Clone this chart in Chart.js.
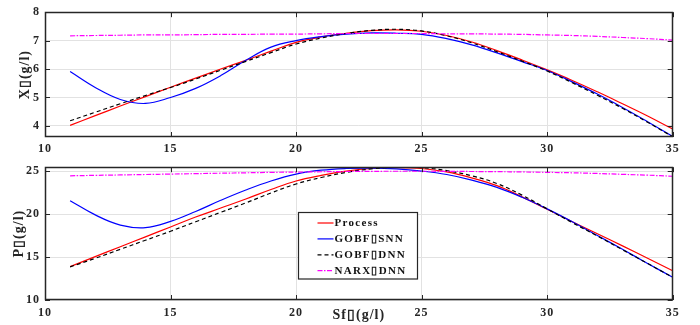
<!DOCTYPE html>
<html>
<head>
<meta charset="utf-8">
<script src="https://cdn.jsdelivr.net/npm/chart.js@4.4.1/dist/chart.umd.min.js"></script>
<style>
  html, body { margin: 0; padding: 0; background: #fff; }
  #wrap { position: relative; width: 700px; height: 325px; }
  .panel { position: absolute; left: 0; width: 700px; }
</style>
</head>
<body>
<div id="wrap">
  <div class="panel" style="top:0;height:160px"><canvas id="xChart" width="700" height="160"></canvas></div>
  <div class="panel" style="top:155px;height:170px"><canvas id="pChart" width="700" height="170"></canvas></div>
</div>
<script>
// feed substrate concentration Sf (g/l)
const sf = [11, 12, 13, 14, 15, 16, 17, 18, 19, 20, 21, 22, 23,
            24, 25, 26, 27, 28, 29, 30, 31, 32, 33, 34, 35];

// biomass X (g/l)
const xProcess = [4.02, 4.36, 4.70, 5.03, 5.36, 5.68, 6.00, 6.31, 6.63, 6.94, 7.13, 7.26, 7.35,
                  7.38, 7.33, 7.18, 6.95, 6.65, 6.32, 5.97, 5.60, 5.20, 4.78, 4.35, 3.89];
const xGobfSnn = [5.91, 5.35, 4.93, 4.79, 5.00, 5.32, 5.77, 6.31, 6.77, 7.00, 7.14, 7.23, 7.27,
                  7.26, 7.22, 7.07, 6.85, 6.57, 6.26, 5.95, 5.55, 5.12, 4.65, 4.15, 3.63];
const xGobfDnn = [4.18, 4.48, 4.78, 5.07, 5.35, 5.65, 5.96, 6.27, 6.58, 6.88, 7.09, 7.25, 7.36,
                  7.40, 7.34, 7.17, 6.92, 6.61, 6.28, 5.93, 5.52, 5.08, 4.62, 4.13, 3.62];
const xNarxDnn = [7.17, 7.18, 7.19, 7.20, 7.20, 7.21, 7.22, 7.22, 7.23, 7.23, 7.24, 7.25, 7.25,
                  7.25, 7.25, 7.24, 7.24, 7.23, 7.22, 7.20, 7.18, 7.15, 7.11, 7.07, 7.02];

// product P (g/l)
const pProcess = [13.88, 15.05, 16.20, 17.35, 18.50, 19.65, 20.70, 21.75, 22.85, 23.85, 24.50, 25.00, 25.30,
                  25.40, 25.30, 24.90, 24.20, 23.30, 22.00, 20.55, 19.10, 17.70, 16.30, 14.85, 13.40];
const pGobfSnn = [21.55, 19.90, 18.72, 18.42, 19.15, 20.30, 21.60, 22.80, 23.85, 24.65, 25.10, 25.30, 25.35,
                  25.25, 25.00, 24.60, 23.95, 23.10, 21.95, 20.60, 19.10, 17.50, 15.90, 14.25, 12.65];
const pGobfDnn = [13.85, 14.85, 15.90, 16.95, 18.00, 19.10, 20.20, 21.30, 22.45, 23.50, 24.25, 24.85, 25.25,
                  25.45, 25.40, 25.05, 24.45, 23.55, 22.20, 20.60, 19.00, 17.45, 15.85, 14.25, 12.64];
const pNarxDnn = [24.45, 24.50, 24.55, 24.60, 24.65, 24.70, 24.75, 24.80, 24.85, 24.88, 24.92, 24.95, 24.97,
                  24.98, 24.98, 24.97, 24.95, 24.93, 24.90, 24.85, 24.80, 24.72, 24.62, 24.52, 24.40];

const seriesNames = ['Process', 'GOBF\u25AFSNN', 'GOBF\u25AFDNN', 'NARX\u25AFDNN'];

const sfTicks = [10, 15, 20, 25, 30, 35];
const xTicks = [4, 5, 6, 7, 8];
const pTicks = [10, 15, 20, 25];

const serif = '"Liberation Serif", "Times New Roman", serif';
const axisColor = '#262626';
const gridColor = '#e2e2e2';

const styles = [
  { borderColor: '#ff0000', borderDash: [] },
  { borderColor: '#0000ff', borderDash: [] },
  { borderColor: '#000000', borderDash: [4, 3] },
  { borderColor: '#ff00ff', borderDash: [5, 1.5, 1.5, 1.5] }
];

function makeDatasets(list) {
  return list.map((ys, i) => ({
    label: seriesNames[i],
    data: ys.map((y, j) => ({ x: sf[j], y })),
    borderColor: styles[i].borderColor,
    borderDash: styles[i].borderDash,
    borderWidth: 1.2,
    pointRadius: 0,
    tension: 0.4,
    fill: false,
    order: 3 - i
  }));
}

// spaced-out lettering, reapplied because canvas resizes reset it
const spacing = {
  id: 'spacing',
  afterInit(chart) { chart.ctx.letterSpacing = '1px'; },
  beforeLayout(chart) { chart.ctx.letterSpacing = '1px'; },
  beforeDraw(chart) { chart.ctx.letterSpacing = '1px'; }
};

// box around the axes with inward tick marks on all four sides
const frame = {
  id: 'frame',
  afterDatasetsDraw(chart) {
    const { ctx, chartArea: a, scales } = chart;
    ctx.save();
    ctx.strokeStyle = axisColor;
    ctx.lineWidth = 1;
    ctx.beginPath();
    scales.x.ticks.forEach(t => {
      const px = Math.round(scales.x.getPixelForValue(t.value)) + 0.5;
      ctx.moveTo(px, a.bottom); ctx.lineTo(px, a.bottom - 5);
      ctx.moveTo(px, a.top); ctx.lineTo(px, a.top + 5);
    });
    scales.y.ticks.forEach(t => {
      const py = Math.round(scales.y.getPixelForValue(t.value)) + 0.5;
      ctx.moveTo(a.left, py); ctx.lineTo(a.left + 5, py);
      ctx.moveTo(a.right, py); ctx.lineTo(a.right - 5, py);
    });
    ctx.stroke();
    ctx.lineWidth = 1.5;
    ctx.strokeRect(Math.round(a.left) + 0.5, Math.round(a.top) + 0.5,
                   Math.round(a.width) - 1, Math.round(a.height) - 1);
    ctx.restore();
  }
};

// legend drawn inside the lower axes
const boxLegend = {
  id: 'boxLegend',
  afterDraw(chart) {
    const ctx = chart.ctx;
    const bx = 298.5, by = 57.5, bw = 119, bh = 66.5;
    ctx.save();
    ctx.fillStyle = '#fff';
    ctx.fillRect(bx, by, bw, bh);
    ctx.strokeStyle = axisColor;
    ctx.lineWidth = 1.2;
    ctx.strokeRect(bx, by, bw, bh);
    ctx.font = 'bold 11px ' + serif;
    ctx.letterSpacing = '1.3px';
    ctx.textBaseline = 'middle';
    ctx.textAlign = 'left';
    chart.data.datasets.forEach((ds, i) => {
      const y = by + 10.5 + i * 15.9;
      ctx.strokeStyle = ds.borderColor;
      ctx.lineWidth = 1.2;
      ctx.setLineDash(ds.borderDash);
      ctx.beginPath();
      ctx.moveTo(bx + 19, y);
      ctx.lineTo(bx + 35, y);
      ctx.stroke();
      ctx.setLineDash([]);
      ctx.fillStyle = '#111';
      ctx.fillText(ds.label, bx + 36, y);
    });
    ctx.restore();
  }
};

function makeChart(id, datasets, o) {
  const plugins = [spacing, frame];
  if (o.legend) plugins.push(boxLegend);
  return new Chart(document.getElementById(id), {
    type: 'line',
    data: { datasets },
    plugins,
    options: {
      responsive: false,
      animation: false,
      layout: { padding: { top: o.top, right: 27.3, left: 0, bottom: 0 } },
      plugins: { legend: { display: false }, tooltip: { enabled: false } },
      scales: {
        x: {
          type: 'linear',
          min: 10,
          max: 35,
          afterBuildTicks: s => { s.ticks = sfTicks.map(v => ({ value: v })); },
          afterFit: s => { s.height = o.xHeight; },
          grid: { color: gridColor, drawTicks: false },
          border: { display: false },
          ticks: { color: axisColor, padding: o.xTickPad, maxRotation: 0,
                   font: { family: serif, size: 12, weight: 'bold' } },
          title: {
            display: !!o.xTitle,
            text: o.xTitle || '',
            color: axisColor,
            padding: { top: 0, bottom: 1 },
            font: { family: serif, size: 14, weight: 'bold' }
          }
        },
        y: {
          min: o.yMin,
          max: o.yMax,
          afterBuildTicks: s => { s.ticks = o.yTicks.map(v => ({ value: v })); },
          afterFit: s => { s.width = 45; },
          grid: { color: gridColor, drawTicks: false },
          border: { display: false },
          ticks: { color: axisColor, padding: 5,
                   font: { family: serif, size: 12, weight: 'bold' } },
          title: {
            display: true,
            text: o.yTitle,
            color: axisColor,
            padding: { top: o.yTitlePad, bottom: 0 },
            font: { family: serif, size: 14, weight: 'bold' }
          }
        }
      }
    }
  });
}

makeChart('xChart', makeDatasets([xProcess, xGobfSnn, xGobfDnn, xNarxDnn]), {
  top: 9, xHeight: 23, xTickPad: 5,
  yMin: 3.61, yMax: 8, yTicks: xTicks,
  yTitle: 'X\u25AF(g/l)', yTitlePad: 17,
  });

makeChart('pChart', makeDatasets([pProcess, pGobfSnn, pGobfDnn, pNarxDnn]), {
  top: 7.7, xHeight: 25, xTickPad: 6,
  yMin: 10, yMax: 25.45, yTicks: pTicks,
  yTitle: 'P\u25AF(g/l)', yTitlePad: 11,
  xTitle: 'Sf\u25AF(g/l)', legend: true
});
</script>
</body>
</html>
